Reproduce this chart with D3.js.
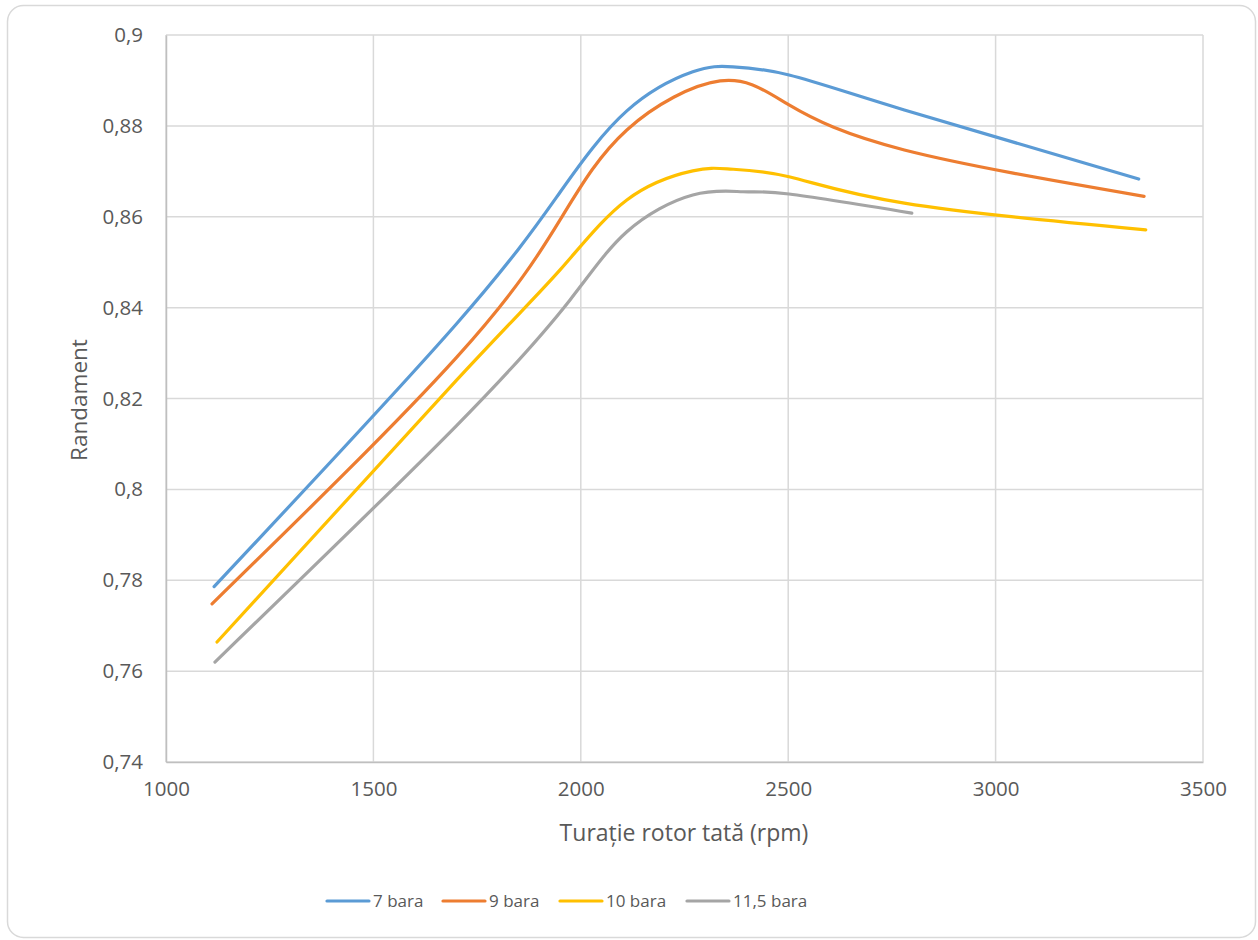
<!DOCTYPE html>
<html>
<head>
<meta charset="utf-8">
<script src="https://cdn.jsdelivr.net/npm/d3@7"></script>
<style>
  html, body { margin: 0; padding: 0; background: #fff; }
  svg { display: block; }
  text { font-family: "Open Sans", "Noto Sans", sans-serif; fill: #595959; }
</style>
</head>
<body>
<svg id="chart" width="1258" height="940"></svg>
<script>
// Turbine efficiency vs. rotor speed, one curve per supply pressure
const seriesNames = ["7 bara", "9 bara", "10 bara", "11,5 bara"];
const seriesColors = ["#5b9bd5", "#ed7d31", "#ffc000", "#a5a5a5"];

const rpm7 = [1116, 1700, 1950, 2111, 2270, 2367, 2502, 2780, 3345];
const eff7 = [0.7786, 0.8364, 0.8654, 0.8833, 0.8919, 0.8930, 0.8912, 0.8835, 0.8683];

const rpm9 = [1111, 1700, 1950, 2111, 2336, 2502, 2780, 3358];
const eff9 = [0.7748, 0.8290, 0.8593, 0.8791, 0.8899, 0.8846, 0.8747, 0.8645];

const rpm10 = [1123, 1700, 1950, 2111, 2270, 2360, 2502, 2780, 3362];
const eff10 = [0.7664, 0.8240, 0.8483, 0.8637, 0.8701, 0.8705, 0.8688, 0.8630, 0.8571];

const rpm115 = [1118, 1700, 1974, 2111, 2270, 2391, 2502, 2798];
const eff115 = [0.7620, 0.8140, 0.8417, 0.8567, 0.8648, 0.8655, 0.8650, 0.8608];

const xTicks = [1000, 1500, 2000, 2500, 3000, 3500];
const yTicks = [0.74, 0.76, 0.78, 0.80, 0.82, 0.84, 0.86, 0.88, 0.90];

const series = [
  { name: seriesNames[0], color: seriesColors[0], xs: rpm7, ys: eff7 },
  { name: seriesNames[1], color: seriesColors[1], xs: rpm9, ys: eff9 },
  { name: seriesNames[2], color: seriesColors[2], xs: rpm10, ys: eff10 },
  { name: seriesNames[3], color: seriesColors[3], xs: rpm115, ys: eff115 }
];

const svg = d3.select("#chart");

// outer frame
svg.append("rect")
  .attr("x", 7.5).attr("y", 5.5)
  .attr("width", 1248).attr("height", 932)
  .attr("rx", 16).attr("ry", 16)
  .attr("fill", "#fff")
  .attr("stroke", "#d9d9d9")
  .attr("stroke-width", 1.5);

const plot = { left: 166, right: 1203, top: 35, bottom: 762 };

const x = d3.scaleLinear().domain([1000, 3500]).range([plot.left, plot.right]);
const y = d3.scaleLinear().domain([0.74, 0.90]).range([plot.bottom, plot.top]);

// gridlines
const grid = svg.append("g");
grid.selectAll("line.h").data(yTicks).join("line")
  .attr("x1", plot.left).attr("x2", plot.right)
  .attr("y1", d => y(d)).attr("y2", d => y(d))
  .attr("stroke", "#d9d9d9").attr("stroke-width", 1.5);
grid.selectAll("line.v").data(xTicks).join("line")
  .attr("x1", d => x(d)).attr("x2", d => x(d))
  .attr("y1", plot.top).attr("y2", plot.bottom)
  .attr("stroke", "#d9d9d9").attr("stroke-width", 1.5);

// axes
const fmt = d => String(+d.toFixed(2)).replace(".", ",");
const yAxis = svg.append("g")
  .attr("transform", `translate(${plot.left},0)`)
  .call(d3.axisLeft(y).tickValues(yTicks).tickFormat(fmt).tickSize(0).tickPadding(23));
yAxis.select(".domain").attr("stroke", "#bfbfbf").attr("stroke-width", 1.5);
yAxis.selectAll("text").attr("font-size", 20.5).attr("fill", "#595959")
  .style("font-family", '"Open Sans", sans-serif');

const xAxis = svg.append("g")
  .attr("transform", `translate(0,${plot.bottom})`)
  .call(d3.axisBottom(x).tickValues(xTicks).tickFormat(d3.format("d")).tickSize(0).tickPadding(19));
xAxis.select(".domain").attr("stroke", "#bfbfbf").attr("stroke-width", 1.5);
xAxis.selectAll("text").attr("font-size", 20.5).attr("fill", "#595959")
  .style("font-family", '"Open Sans", sans-serif');

// axis titles
svg.append("text")
  .attr("x", 684).attr("y", 841)
  .attr("text-anchor", "middle").attr("font-size", 23)
  .text("Turație rotor tată (rpm)");

svg.append("text")
  .attr("transform", `translate(87,400) rotate(-90)`)
  .attr("text-anchor", "middle").attr("font-size", 22.5)
  .text("Randament");

// smoothed series
const line = d3.line()
  .x(d => x(d[0])).y(d => y(d[1]))
  .curve(d3.curveNatural);

svg.append("g").selectAll("path").data(series).join("path")
  .attr("d", s => line(s.xs.map((v, i) => [v, s.ys[i]])))
  .attr("fill", "none")
  .attr("stroke", s => s.color)
  .attr("stroke-width", 3.2)
  .attr("stroke-linecap", "round")
  .attr("stroke-linejoin", "round");

// legend
const legendX = [327, 443, 560, 687];
const legend = svg.append("g");
series.forEach((s, i) => {
  const g = legend.append("g").attr("transform", `translate(${legendX[i]},901)`);
  g.append("line").attr("x1", 0).attr("x2", 42).attr("y1", 0).attr("y2", 0)
    .attr("stroke", s.color).attr("stroke-width", 3.2).attr("stroke-linecap", "round");
  g.append("text").attr("x", 46).attr("y", 0).attr("dy", "0.35em")
    .attr("font-size", 17).text(s.name);
});
</script>
</body>
</html>
